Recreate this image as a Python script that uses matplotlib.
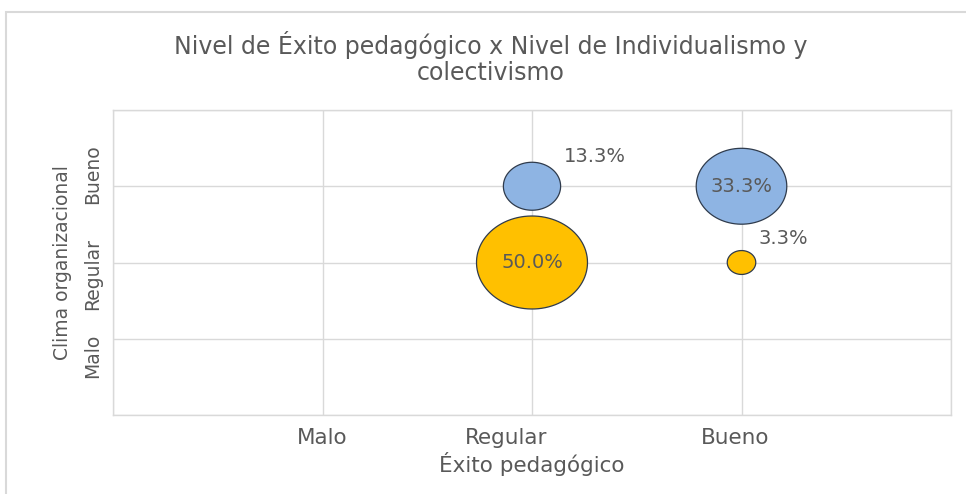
import matplotlib
matplotlib.use("Agg")
import matplotlib.pyplot as plt
import numpy as np
from matplotlib.path import Path
from matplotlib.patches import Rectangle
from matplotlib.transforms import ScaledTranslation

# ---- data ----
levels = ["Malo", "Regular", "Bueno"]
x_pos = [2, 3, 2, 3]            # Éxito pedagógico (1=Malo, 2=Regular, 3=Bueno)
y_pos = [3, 3, 2, 2]            # Clima organizacional
values = [13.3, 33.3, 50.0, 3.3]
series = ["blue", "blue", "yellow", "yellow"]
labels = ["13.3%", "33.3%", "50.0%", "3.3%"]
label_inside = [False, True, True, False]

title = "Nivel de Éxito pedagógico x Nivel de Individualismo y\ncolectivismo"
xlabel = "Éxito pedagógico"
ylabel = "Clima organizacional"

colors = {"blue": "#8EB4E3", "yellow": "#FFC000"}
text_color = "#595959"
grid_color = "#D9D9D9"

# ---- figure ----
W, H, DPI = 966, 494, 100
fig = plt.figure(figsize=(W / DPI, H / DPI), dpi=DPI)
ax = fig.add_axes([113 / W, 1 - 415 / H, (951 - 113) / W, (415 - 110) / H])

# chart border (light gray)
fig.patches.append(Rectangle((6 / W, -0.1), 1.2, 1 - 12 / H + 0.1, transform=fig.transFigure,
                             fill=False, edgecolor="#D9D9D9", linewidth=1.5))

ax.set_xlim(0, 4)
ax.set_ylim(0, 4)
ax.set_xticks([0, 1, 2, 3, 4])
ax.set_yticks([0, 1, 2, 3, 4])
ax.set_xticklabels([""] + levels + [""])
ax.set_yticklabels([""] + levels + [""], rotation=90, va="center")
ax.grid(True, color=grid_color, linewidth=1)
ax.set_axisbelow(True)
for s in ax.spines.values():
    s.set_color(grid_color)
    s.set_linewidth(1)
ax.tick_params(length=0, colors=text_color)
ax.tick_params(axis="x", pad=9, labelsize=15.5)
ax.tick_params(axis="y", pad=8, labelsize=13.5)

# label nudges (pixels), reproducing the reference's irregular label placement
x_nudge = {"Regular": -26, "Bueno": -6}
y_nudge = {"Malo": -17, "Regular": -11, "Bueno": 12}
fig.canvas.draw()
for t in ax.get_xticklabels():
    dx = x_nudge.get(t.get_text(), 0)
    if dx:
        t.set_transform(t.get_transform() + ScaledTranslation(dx / DPI, 0, fig.dpi_scale_trans))
for t in ax.get_yticklabels():
    dy = y_nudge.get(t.get_text(), 0)
    if dy:
        t.set_transform(t.get_transform() + ScaledTranslation(0, dy / DPI, fig.dpi_scale_trans))

# elliptical bubble marker (reference bubbles are wider than tall)
aspect = 111 / 93
theta = np.linspace(0, 2 * np.pi, 100)
ell = Path(np.column_stack([aspect * np.cos(theta), np.sin(theta)]), closed=True)

px_per_pt = DPI / 72
d50 = 111 / px_per_pt  # width in points for 50%
sizes = [(d50 ** 2) * v / 50.0 for v in values]
ax.scatter(x_pos, y_pos, s=sizes, marker=ell,
           c=[colors[s] for s in series], edgecolors="#2F3B4C", linewidths=0.9, zorder=3)

for x, y, v, lab, inside in zip(x_pos, y_pos, values, labels, label_inside):
    if inside:
        ax.annotate(lab, (x, y), ha="center", va="center", fontsize=14,
                    color=text_color, zorder=4)
    else:
        rx = 111 / 2 * np.sqrt(v / 50) / px_per_pt
        ry = 93 / 2 * np.sqrt(v / 50) / px_per_pt
        ax.annotate(lab, (x, y), xytext=(rx + 2, ry * 0.5 + 13), textcoords="offset points",
                    ha="left", va="center", fontsize=14, color=text_color, zorder=4)

ax.set_xlabel(xlabel, fontsize=15.5, color=text_color, labelpad=3)
ax.set_ylabel(ylabel, fontsize=13.5, color=text_color, labelpad=8)
fig.text(491 / W, 1 - 58 / H, title, ha="center", va="center", fontsize=17,
         color=text_color, linespacing=1.15)

fig.savefig("out.png", dpi=DPI)
